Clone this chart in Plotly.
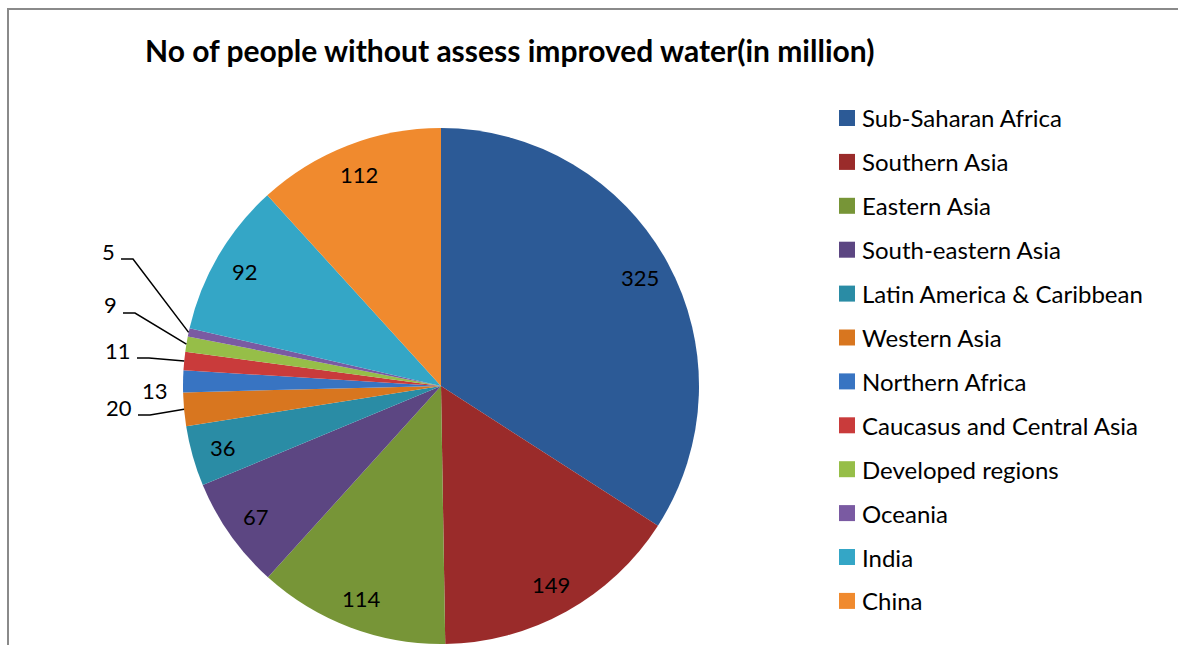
import math
import plotly.graph_objects as go

# Regions and number of people without access to improved water (millions)
regions = [
    "Sub-Saharan Africa", "Southern Asia", "Eastern Asia", "South-eastern Asia",
    "Latin America & Caribbean", "Western Asia", "Northern Africa",
    "Caucasus and Central Asia", "Developed regions", "Oceania", "India", "China",
]
people_millions = [325, 149, 114, 67, 36, 20, 13, 11, 9, 5, 92, 112]

colors = [
    "#2C5A96", "#9A2B2A", "#779537", "#5C4682", "#2A8CA5", "#D8761F",
    "#3874C2", "#C93B3B", "#96BE48", "#7A5AA2", "#34A6C6", "#F08A2E",
]

W, H = 1178, 645
FONT = "Lato, Carlito, Calibri, sans-serif"

# pie placement (pixels)
CX, CY, R = 441, 386, 258

# small slices get outside labels with leader lines: start of the leader (px)
outside_leaders = {
    "Oceania": (121, 259),
    "Developed regions": (123, 313),
    "Caucasus and Central Asia": (137, 358),
    "Western Asia": (138, 415),
}
# label without a leader line (px, text centre)
outside_plain = {"Northern Africa": (155, 390)}

fig = go.Figure(
    go.Pie(
        labels=regions,
        values=people_millions,
        sort=False,
        direction="clockwise",
        rotation=0,
        marker=dict(colors=colors, line=dict(width=0)),
        textinfo="none",
        hoverinfo="label+value",
        showlegend=False,
        domain=dict(x=[(CX - R) / W, (CX + R) / W], y=[(H - CY - R) / H, (H - CY + R) / H]),
    )
)


def px(x, y):
    return x / W, 1 - y / H


annotations = []
shapes = []
total = sum(people_millions)
cum = 0.0
for name, val in zip(regions, people_millions):
    a0 = cum / total * 2 * math.pi
    cum += val
    a1 = cum / total * 2 * math.pi
    mid = (a0 + a1) / 2
    sx, sy = math.sin(mid), -math.cos(mid)
    if name in outside_leaders:
        lx, ly = outside_leaders[name]
        rx, ry = CX + R * sx, CY + R * sy
        shapes.append(dict(
            type="path", xref="paper", yref="paper",
            path="M {:.5f},{:.5f} L {:.5f},{:.5f} L {:.5f},{:.5f}".format(
                lx / W, 1 - ly / H, (lx + 12) / W, 1 - ly / H, rx / W, 1 - ry / H),
            line=dict(color="#000000", width=1.5),
        ))
        x, y = px(lx - 4, ly - 8)
        annotations.append(dict(x=x, y=y, xref="paper", yref="paper", text=str(val),
                                showarrow=False, xanchor="right", yanchor="middle",
                                font=dict(family=FONT, size=22, color="#000")))
    elif name in outside_plain:
        x, y = px(*outside_plain[name])
        annotations.append(dict(x=x, y=y, xref="paper", yref="paper", text=str(val),
                                showarrow=False, xanchor="center", yanchor="middle",
                                font=dict(family=FONT, size=22, color="#000")))
    else:
        x, y = px(CX + 0.88 * R * sx, CY + 0.88 * R * sy)
        annotations.append(dict(x=x, y=y, xref="paper", yref="paper", text=str(val),
                                showarrow=False, xanchor="center", yanchor="middle",
                                font=dict(family=FONT, size=22, color="#000")))

# legend drawn as swatches + text
LEG_X, LEG_Y0, LEG_STEP, SW = 839, 118, 43.9, 16
for i, (name, col) in enumerate(zip(regions, colors)):
    yc = LEG_Y0 + i * LEG_STEP
    shapes.append(dict(type="rect", xref="paper", yref="paper",
                       x0=LEG_X / W, x1=(LEG_X + SW) / W,
                       y0=1 - (yc - SW / 2) / H, y1=1 - (yc + SW / 2) / H,
                       fillcolor=col, line=dict(width=0)))
    annotations.append(dict(x=(LEG_X + SW + 5) / W, y=1 - yc / H, xref="paper", yref="paper",
                            text=name, showarrow=False, xanchor="left", yanchor="middle",
                            font=dict(family=FONT, size=24, color="#000")))

# chart title
annotations.append(dict(x=509 / W, y=1 - 50 / H, xref="paper", yref="paper",
                        text="<b>No of people without assess improved water(in million)</b>",
                        showarrow=False, xanchor="center", yanchor="middle",
                        font=dict(family=FONT, size=30, color="#000")))

# chart area frame (top and left edges)
shapes.append(dict(type="line", xref="paper", yref="paper",
                   x0=7 / W, x1=1.0, y0=1 - 9 / H, y1=1 - 9 / H,
                   line=dict(color="#8A8A8A", width=2)))
shapes.append(dict(type="line", xref="paper", yref="paper",
                   x0=8 / W, x1=8 / W, y0=1 - 9 / H, y1=0,
                   line=dict(color="#8A8A8A", width=2)))

fig.update_layout(
    width=W, height=H,
    margin=dict(l=0, r=0, t=0, b=0),
    paper_bgcolor="white", plot_bgcolor="white",
    annotations=annotations, shapes=shapes,
)

fig.write_html("out.html")
